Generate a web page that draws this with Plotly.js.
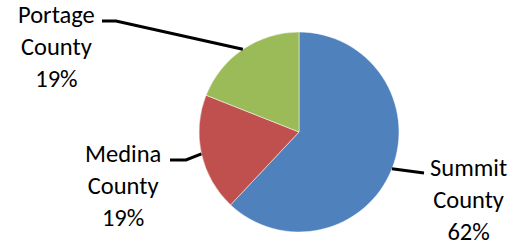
<!DOCTYPE html>
<html>
<head>
<meta charset="utf-8">
<script src="https://cdn.plot.ly/plotly-3.0.1.min.js"></script>
<style>html,body{margin:0;padding:0;background:#fff;}#chart{width:518px;height:244px;}</style>
</head>
<body>
<div id="chart"></div>
<script>
// Data
const counties = ["Summit", "Medina", "Portage"];
const countyLabels = ["Summit County", "Medina County", "Portage County"];
const shares = [62, 19, 19];
const sliceColors = ["#4F81BD", "#C0504D", "#9BBB59"];

// Layout geometry (pixels)
const W = 518, H = 244;
const cx = 299, cy = 132, R = 100;
const px = x => x / W;
const py = y => 1 - y / H;

// label positions (text centre) and leader-line elbow / end points
const labelPos = [
  {x: 468, y: 200, elbow: [424, 173], end: [424, 173]},
  {x: 123, y: 186, elbow: [186, 160], end: [170, 160]},
  {x: 56, y: 47, elbow: [116, 21], end: [102, 21]}
];

const total = shares.reduce((a, b) => a + b, 0);
let cum = 0;
const annotations = [];
const shapes = [];
shares.forEach((v, i) => {
  const mid = (cum + v / 2) / total * 2 * Math.PI; // clockwise from 12 o'clock
  cum += v;
  const sx = cx + R * Math.sin(mid);
  const sy = cy - R * Math.cos(mid);
  const lp = labelPos[i];
  const pct = Math.round(v / total * 100) + "%";
  const parts = countyLabels[i].split(" ");
  annotations.push({
    xref: "paper", yref: "paper",
    x: px(lp.x), y: py(lp.y),
    xanchor: "center", yanchor: "middle",
    text: parts[0] + "<br>" + parts[1] + "<br>" + pct,
    showarrow: false,
    align: "center",
    font: {family: "Carlito, Calibri, Lato, sans-serif", size: 24.5, color: "#000"}
  });
  shapes.push({
    type: "path", xref: "paper", yref: "paper",
    path: "M" + px(sx) + "," + py(sy) + " L" + px(lp.elbow[0]) + "," + py(lp.elbow[1]) +
          " L" + px(lp.end[0]) + "," + py(lp.end[1]),
    line: {color: "#000", width: 3}
  });
});

const trace = {
  type: "pie",
  labels: countyLabels,
  values: shares,
  sort: false,
  direction: "clockwise",
  rotation: 0,
  textinfo: "none",
  hoverinfo: "label+percent",
  marker: {colors: sliceColors, line: {color: "#ffffff", width: 0.5}},
  domain: {x: [px(cx - R), px(cx + R)], y: [py(cy + R), py(cy - R)]},
  showlegend: false
};

Plotly.newPlot("chart", [trace], {
  width: W, height: H,
  margin: {l: 0, r: 0, t: 0, b: 0},
  paper_bgcolor: "#fff",
  showlegend: false,
  annotations: annotations,
  shapes: shapes
}, {displayModeBar: false, staticPlot: true});
</script>
</body>
</html>
